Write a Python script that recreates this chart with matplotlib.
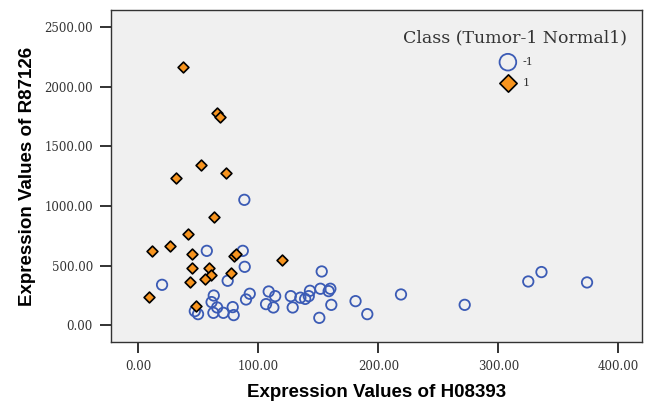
import numpy as np
import matplotlib.pyplot as plt

# class -1 (tumor) : open blue circles
h08393_tumor = [88.3, 57, 87, 88.6, 19.7, 74.4, 62.8, 61, 65.6, 47, 49.7, 62.5, 70.8,
                78.6, 79.4, 92.8, 89.7, 108.6, 114, 106.4, 112.5, 127, 128.6, 135,
                139, 142, 143, 152.8, 151.7, 160, 158.6, 160.8, 150.8, 181, 190.8,
                218.9, 272, 325, 336, 374]
r87126_tumor = [1051, 623, 623, 489, 338, 372, 248, 193, 148, 117, 92, 103, 103,
                151, 84, 263, 215, 282, 243, 176, 148, 243, 148, 230,
                220, 243, 288, 450, 305, 305, 285, 170, 61, 201, 92,
                257, 170, 366, 445, 358]

# class 1 (normal) : orange diamonds
h08393_normal = [37.5, 65.8, 67.8, 52.2, 31.4, 72.8, 63, 41, 26.7, 11, 45, 79.4, 81.4,
                 120, 44.4, 58.6, 60.8, 55.3, 77.2, 43.3, 9.2, 47.8]
r87126_normal = [2162, 1781, 1748, 1342, 1233, 1273, 906, 761, 663, 623, 598, 579, 596,
                 545, 481, 478, 417, 386, 439, 361, 232, 157]

xticks = [0, 100, 200, 300, 400]
yticks = [0, 500, 1000, 1500, 2000, 2500]

blue = '#3B5BB5'
orange = '#F7941E'

fig = plt.figure(figsize=(6.52, 4.03), dpi=100)
ax = fig.add_axes([0.170, 0.151, 0.815, 0.824])
ax.set_facecolor('#F0F0F0')

ax.scatter(h08393_tumor, r87126_tumor, s=7.5**2, facecolors='none', edgecolors=blue,
           linewidths=1.3, label='-1', zorder=3)
ax.scatter(h08393_normal, r87126_normal, s=5.5**2, marker='D', facecolors=orange,
           edgecolors='black', linewidths=1.2, label='1', zorder=4)

ax.set_xlim(-23, 420)
ax.set_ylim(-143, 2643)
ax.set_xticks(xticks)
ax.set_yticks(yticks)
ax.set_xticklabels(['%.2f' % v for v in xticks], family='DejaVu Serif', fontsize=8.5, color='#333333')
ax.set_yticklabels(['%.2f' % v for v in yticks], family='DejaVu Serif', fontsize=8.5, color='#333333')
ax.tick_params(direction='out', length=8, width=1.3, color='#222222', pad=5)
for sp in ax.spines.values():
    sp.set_linewidth(1.0)
    sp.set_color('#333333')

ax.set_xlabel('Expression Values of H08393', family='Liberation Sans', fontweight='bold',
              fontsize=13.5, labelpad=8)
ax.set_ylabel('Expression Values of R87126', family='Liberation Sans', fontweight='bold',
              fontsize=13.5, labelpad=6)

leg = ax.legend(title='Class (Tumor-1 Normal1)', loc='upper center',
                bbox_to_anchor=(515 / 652, 1 - 19 / 403), bbox_transform=fig.transFigure,
                frameon=False, prop={'family': 'DejaVu Serif', 'size': 8},
                handletextpad=0.3, labelspacing=1.0, markerscale=1.6)
leg.get_title().set_family('DejaVu Serif')
leg.get_title().set_fontsize(12.5)
leg.get_title().set_color('#333333')
for t in leg.get_texts():
    t.set_color('#333333')

plt.savefig('out.png', dpi=100)
